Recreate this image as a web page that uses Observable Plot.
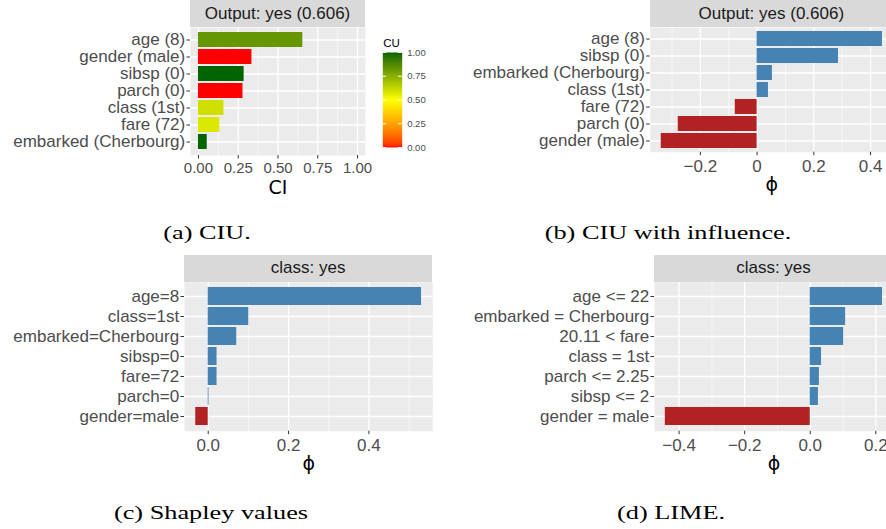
<!DOCTYPE html>
<html><head><meta charset="utf-8">
<script src="https://cdn.jsdelivr.net/npm/d3@7"></script>
<script src="https://cdn.jsdelivr.net/npm/@observablehq/plot@0.6"></script>
<style>
html,body{margin:0;padding:0;background:#fff;overflow:hidden;}
#root{position:relative;width:886px;height:529px;overflow:hidden;font-family:"Liberation Sans",Arial,sans-serif;}
.panel{position:absolute;width:max-content;}
.panel svg{display:block;max-width:none !important;}
.strip{position:absolute;background:#D9D9D9;color:#1A1A1A;font-size:17px;display:flex;align-items:center;justify-content:center;white-space:nowrap;}
.caption{position:absolute;font-family:"Liberation Serif","Times New Roman",serif;font-size:18px;line-height:18px;white-space:nowrap;color:#000;transform:translateX(-50%) scaleX(1.46);}
</style></head><body><div id="root"></div><script>
// ---- data ----
const ciuFeatures = ["age (8)", "gender (male)", "sibsp (0)", "parch (0)", "class (1st)", "fare (72)", "embarked (Cherbourg)"];
const ciuCI = [0.656, 0.336, 0.287, 0.280, 0.160, 0.134, 0.055];
const ciuCU = [0.83, 0.0, 1.0, 0.0, 0.60, 0.57, 1.0];

const infFeatures = ["age (8)", "sibsp (0)", "embarked (Cherbourg)", "class (1st)", "fare (72)", "parch (0)", "gender (male)"];
const infPhi = [0.442, 0.287, 0.054, 0.040, -0.077, -0.278, -0.338];

const shapFeatures = ["age=8", "class=1st", "embarked=Cherbourg", "sibsp=0", "fare=72", "parch=0", "gender=male"];
const shapPhi = [0.531, 0.101, 0.071, 0.022, 0.022, 0.002, -0.031];

const limeFeatures = ["age <= 22", "embarked = Cherbourg", "20.11 < fare", "class = 1st", "parch <= 2.25", "sibsp <= 2", "gender = male"];
const limePhi = [0.2205, 0.108, 0.102, 0.0345, 0.028, 0.025, -0.442];

const ciuTicks = [0, 0.25, 0.5, 0.75, 1];
const ciuMinor = [0.125, 0.375, 0.625, 0.875];
const infTicks = [-0.2, 0, 0.2, 0.4];
const infMinor = [-0.3, -0.1, 0.1, 0.3];
const shapTicks = [0, 0.2, 0.4];
const shapMinor = [0.1, 0.3, 0.5];
const limeTicks = [-0.4, -0.2, 0, 0.2];
const limeMinor = [-0.3, -0.1, 0.1];
const cuBreaks = [0, 0.25, 0.5, 0.75, 1];

const stripCIU = "Output: yes (0.606)";
const stripClass = "class: yes";
const captions = ["(a) CIU.", "(b) CIU with influence.", "(c) Shapley values", "(d) LIME."];

// ---- helpers ----
const root = document.getElementById("root");
const FONT = '"Liberation Sans", Arial, sans-serif';
const cuColor = {type: "linear", domain: [0, 0.5, 1], range: ["red", "yellow", "darkgreen"], interpolate: "lab"};
const signColor = {domain: ["pos", "neg"], range: ["#4682B4", "#B22222"]};
const baseStyle = {fontFamily: FONT, fontSize: "17px", color: "#4D4D4D", background: "none", maxWidth: "none", overflow: "visible"};

function place(el, left, top) {
  const d = document.createElement("div");
  d.className = "panel";
  d.style.left = left + "px";
  d.style.top = top + "px";
  d.appendChild(el);
  root.appendChild(d);
}
function strip(text, left, top, width, height) {
  const d = document.createElement("div");
  d.className = "strip";
  Object.assign(d.style, {left: left + "px", top: top + "px", width: width + "px", height: height + "px"});
  d.textContent = text;
  root.appendChild(d);
}
function caption(text, cx, top) {
  const d = document.createElement("div");
  d.className = "caption";
  d.style.left = cx + "px";
  d.style.top = top + "px";
  d.textContent = text;
  root.appendChild(d);
}

function barPanel(o) {
  const data = o.labels.map((label, i) => ({label, value: o.values[i], cu: o.cu ? o.cu[i] : null}));
  const white = {stroke: "white", strokeOpacity: 1};
  return Plot.plot({
    width: o.width, height: o.height,
    marginLeft: o.ml, marginRight: o.mr, marginTop: o.mt, marginBottom: o.mb,
    style: baseStyle,
    x: {domain: o.xDomain},
    y: {type: "band", domain: o.labels, paddingInner: 0.1, paddingOuter: 0.15},
    color: o.cu ? cuColor : signColor,
    marks: [
      Plot.frame({fill: "#EBEBEB", stroke: "none"}),
      Plot.gridX(o.minor, {...white, strokeWidth: 0.6}),
      Plot.gridX(o.ticks, {...white, strokeWidth: 1.3}),
      Plot.gridY(o.labels, {...white, strokeWidth: 1.3}),
      Plot.barX(data, {
        y: "label", x: "value",
        fill: o.cu ? "cu" : (d => d.value >= 0 ? "pos" : "neg")
      }),
      Plot.axisX(o.ticks, {tickSize: 3.5, tickPadding: o.xPad, tickFormat: o.fmt, fontSize: o.xFont,
        stroke: "#333", fill: "#4D4D4D", label: null}),
      Plot.axisY(o.labels, {tickSize: 3.5, tickPadding: 1.8, fontSize: 17,
        stroke: "#333", fill: "#4D4D4D", label: null}),
      Plot.text([o.title], {frameAnchor: "bottom", lineAnchor: "middle", dy: o.titleDy, fontSize: 19, fill: "black",
        fontFamily: '"DejaVu Sans", "Liberation Sans", sans-serif', text: d => d})
    ]
  });
}

// (a) CIU
place(barPanel({
  labels: ciuFeatures, values: ciuCI, cu: ciuCU,
  width: 385, height: 200, ml: 190, mr: 20, mt: 27, mb: 45,
  xDomain: [-0.05, 1.05], ticks: ciuTicks, minor: ciuMinor,
  fmt: d3.format(".2f"), xFont: 15, xPad: 3.2, title: "CI", titleDy: 32
}), 0, 0);
strip(stripCIU, 190, 0, 175, 27);

// CU legend
place(Plot.plot({
  width: 60, height: 130, marginLeft: 12.3, marginRight: 28.3, marginTop: 22, marginBottom: 13,
  style: {...baseStyle, fontSize: "9.5px"},
  x: {domain: [0, 1], axis: null},
  y: {domain: [0, 1]},
  color: cuColor,
  marks: [
    Plot.raster({x1: 0, x2: 1, y1: 0, y2: 1, fill: (x, y) => y, imageRendering: "auto"}),
    Plot.ruleY(cuBreaks, {x1: 0, x2: 0.2, stroke: "white", strokeWidth: 1}),
    Plot.ruleY(cuBreaks, {x1: 0.8, x2: 1, stroke: "white", strokeWidth: 1}),
    Plot.axisY(cuBreaks, {anchor: "right", tickSize: 0, tickPadding: 5, tickFormat: d3.format(".2f"),
      fontSize: 9.5, fill: "#4D4D4D", label: null}),
    Plot.text(["CU"], {frameAnchor: "top-left", lineAnchor: "middle", dy: -9, dx: 0.5, textAnchor: "start", fontSize: 11.5,
      fill: "black", text: d => d})
  ]
}), 370, 30);

// (b) CIU with influence
place(barPanel({
  labels: infFeatures, values: infPhi,
  width: 450, height: 200, ml: 199.7, mr: 7, mt: 27, mb: 48.3,
  xDomain: [-0.377, 0.481], ticks: infTicks, minor: infMinor,
  fmt: d3.format(""), xFont: 17, xPad: 3.8, title: "ϕ", titleDy: 32.3
}), 450, 0);
strip(stripCIU, 649.7, 0, 243.3, 27);

// (c) Shapley values
place(barPanel({
  labels: shapFeatures, values: shapPhi,
  width: 443, height: 220, ml: 184, mr: 10.7, mt: 26.7, mb: 44.3,
  xDomain: [-0.059, 0.559], ticks: shapTicks, minor: shapMinor,
  fmt: d3.format(".1f"), xFont: 17, xPad: 3.8, title: "ϕ", titleDy: 32.6
}), 0, 255);
strip(stripClass, 184, 255, 248.3, 26.7);

// (d) LIME
place(barPanel({
  labels: limeFeatures, values: limePhi,
  width: 450, height: 220, ml: 204, mr: 7, mt: 26.7, mb: 44.3,
  xDomain: [-0.475, 0.254], ticks: limeTicks, minor: limeMinor,
  fmt: d3.format(".1f"), xFont: 17, xPad: 3.8, title: "ϕ", titleDy: 32.6
}), 450, 255);
strip(stripClass, 654, 255, 239, 26.7);

// captions
caption(captions[0], 207, 224);
caption(captions[1], 668, 224);
caption(captions[2], 210.5, 503.5);
caption(captions[3], 670.5, 503.5);
</script></body></html>
